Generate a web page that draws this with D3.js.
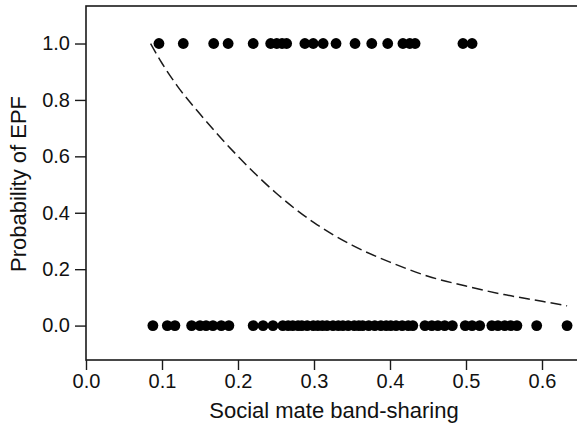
<!DOCTYPE html>
<html><head><meta charset="utf-8">
<script src="https://cdn.jsdelivr.net/npm/d3@7"></script>
<style>body{margin:0;background:#fff}svg{display:block}text{font-family:"Liberation Sans",Arial,sans-serif;fill:#111}</style>
</head><body><svg id="c" width="577" height="427"></svg>
<script>
const xTicks = [0.0, 0.1, 0.2, 0.3, 0.4, 0.5, 0.6];
const yTicks = [0.0, 0.2, 0.4, 0.6, 0.8, 1.0];
// band-sharing values of pairs with EPF (y = 1)
const epfYes = [0.096, 0.128, 0.168, 0.187, 0.220, 0.243, 0.251, 0.258, 0.264, 0.288, 0.299, 0.312, 0.329, 0.354, 0.376, 0.397, 0.417, 0.426, 0.433, 0.496, 0.508];
// band-sharing values of pairs without EPF (y = 0)
const epfNo = [0.088, 0.107, 0.117, 0.139, 0.150, 0.158, 0.167, 0.178, 0.188, 0.220, 0.233, 0.246, 0.259, 0.266, 0.272, 0.279, 0.284, 0.291, 0.299, 0.305, 0.311, 0.317, 0.325, 0.332, 0.338, 0.345, 0.353, 0.359, 0.364, 0.372, 0.380, 0.388, 0.395, 0.401, 0.408, 0.416, 0.424, 0.430, 0.446, 0.455, 0.463, 0.472, 0.482, 0.499, 0.508, 0.518, 0.534, 0.542, 0.551, 0.559, 0.567, 0.593, 0.633];
// fitted curve
const curveX = [0.085, 0.10, 0.12, 0.15, 0.20, 0.25, 0.30, 0.35, 0.40, 0.45, 0.50, 0.55, 0.60, 0.633];
const curveY = [1.00, 0.93, 0.85, 0.75, 0.60, 0.47, 0.365, 0.285, 0.225, 0.175, 0.140, 0.110, 0.086, 0.070];

const svg = d3.select("#c");
const x = d3.scaleLinear().domain([0, 0.65]).range([86, 580]);
const y = d3.scaleLinear().domain([-0.122, 1.133]).range([360, 6]);
const ink = "#1a1a1a";

// frame
svg.append("rect").attr("x", x(0)).attr("y", y(1.133)).attr("width", x(0.65) - x(0))
  .attr("height", y(-0.122) - y(1.133)).attr("fill", "none").attr("stroke", ink).attr("stroke-width", 1.6);

// x axis
const xa = svg.append("g").attr("transform", `translate(0,${y(-0.122)})`)
  .call(d3.axisBottom(x).tickValues(xTicks).tickFormat(d3.format(".1f")).tickSize(10).tickPadding(4));
xa.select(".domain").remove();
xa.selectAll("line").attr("stroke", ink).attr("stroke-width", 1.4);
xa.selectAll("text").attr("font-size", 20).attr("font-family", "Liberation Sans, Arial, sans-serif").attr("fill", "#111");

// y axis
const ya = svg.append("g").attr("transform", `translate(${x(0)},0)`)
  .call(d3.axisLeft(y).tickValues(yTicks).tickFormat(d3.format(".1f")).tickSize(11).tickPadding(5));
ya.select(".domain").remove();
ya.selectAll("line").attr("stroke", ink).attr("stroke-width", 1.4);
ya.selectAll("text").attr("font-size", 20).attr("font-family", "Liberation Sans, Arial, sans-serif").attr("fill", "#111");

// titles
svg.append("text").attr("x", 334).attr("y", 418).attr("text-anchor", "middle")
  .attr("font-size", 22).text("Social mate band-sharing");
svg.append("text").attr("transform", "translate(26,184) rotate(-90)").attr("text-anchor", "middle")
  .attr("font-size", 22).text("Probability of EPF");

// curve
const line = d3.line().x(d => x(d[0])).y(d => y(d[1])).curve(d3.curveMonotoneX);
svg.append("path").datum(curveX.map((v, i) => [v, curveY[i]])).attr("d", line)
  .attr("fill", "none").attr("stroke", ink).attr("stroke-width", 1.5).attr("stroke-dasharray", "11,5");

// points
svg.append("g").selectAll("circle").data(epfYes).join("circle")
  .attr("cx", d => x(d)).attr("cy", y(1)).attr("r", 5.4).attr("fill", "#000");
svg.append("g").selectAll("circle").data(epfNo).join("circle")
  .attr("cx", d => x(d)).attr("cy", y(0)).attr("r", 5.4).attr("fill", "#000");
</script></body></html>
